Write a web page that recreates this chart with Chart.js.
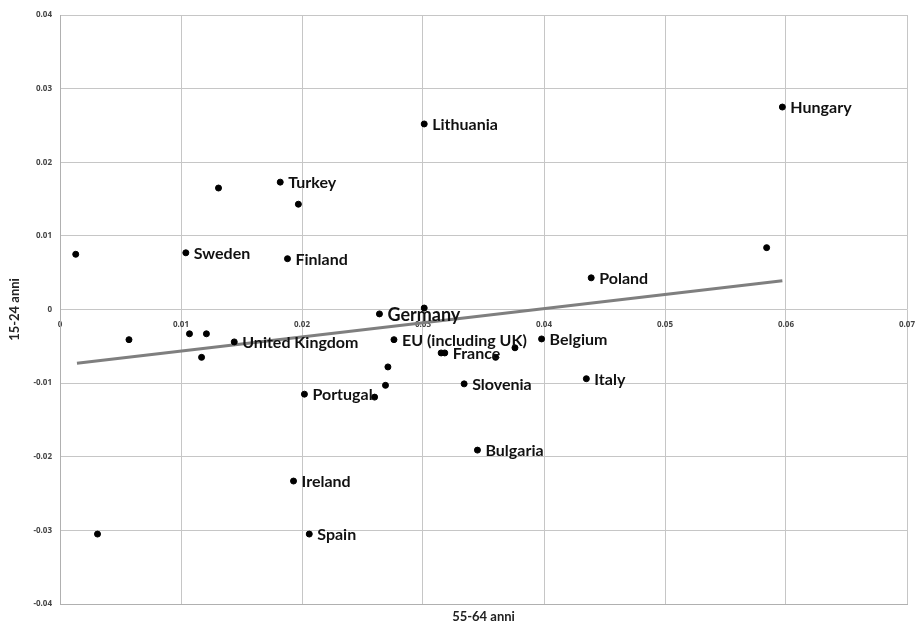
<!DOCTYPE html>
<html>
<head>
<meta charset="utf-8">
<script src="https://cdn.jsdelivr.net/npm/chart.js@4.4.1/dist/chart.umd.min.js"></script>
<style>
  html, body { margin: 0; padding: 0; background: #fff; }
  #wrap { width: 919px; height: 625px; position: relative; }
</style>
</head>
<body>
<div id="wrap"><canvas id="c" width="919" height="625"></canvas></div>
<script>
// Country labels ("" = unlabelled point)
const countries = [
  "", "", "", "", "", "", "", "", "", "", "", "", "", "", "",
  "Sweden", "United Kingdom", "Turkey", "Finland", "Portugal", "Ireland", "Spain",
  "Germany", "EU (including UK)", "France", "Slovenia", "Bulgaria", "Lithuania",
  "Hungary", "Poland", "Belgium", "Italy", ""
];
// 55-64 anni
const xValues = [
  0.0013, 0.0057, 0.0031, 0.0131, 0.0107, 0.0121, 0.0117, 0.0197, 0.0260, 0.0269,
  0.0271, 0.0301, 0.0360, 0.0376, 0.0584,
  0.0104, 0.0144, 0.0182, 0.0188, 0.0202, 0.0193, 0.0206,
  0.0264, 0.0276, 0.0318, 0.0334, 0.0345, 0.0301,
  0.0597, 0.0439, 0.0398, 0.0435, 0.0315
];
// 15-24 anni
const yValues = [
  0.0075, -0.0041, -0.0305, 0.0165, -0.0033, -0.0033, -0.0065, 0.0143, -0.0119, -0.0103,
  -0.0078, 0.0002, -0.0065, -0.0052, 0.0084,
  0.0077, -0.0044, 0.0173, 0.0069, -0.0115, -0.0233, -0.0305,
  -0.0006, -0.0041, -0.0059, -0.0101, -0.0191, 0.0252,
  0.0275, 0.0043, -0.0040, -0.0094, -0.0059
];
// Linear trend line endpoints
const trendX = [0.0014, 0.0597];
const trendY = [-0.0073, 0.0039];
// Axis ticks
const xTicks = [0, 0.01, 0.02, 0.03, 0.04, 0.05, 0.06, 0.07];
const yTicks = [0.04, 0.03, 0.02, 0.01, 0, -0.01, -0.02, -0.03, -0.04];

const fmt = v => String(Math.round(v * 100) / 100);

const points = xValues.map((x, i) => ({ x, y: yValues[i], name: countries[i] }));
const trend = trendX.map((x, i) => ({ x, y: trendY[i] }));

// Writes the country name to the right of each labelled marker
const pointLabels = {
  id: 'pointLabels',
  afterDatasetsDraw(chart) {
    const ctx = chart.ctx;
    const meta = chart.getDatasetMeta(1);
    ctx.save();
    ctx.fillStyle = '#111';
    ctx.textBaseline = 'middle';
    ctx.textAlign = 'left';
    meta.data.forEach((el, i) => {
      const name = points[i].name;
      if (!name) return;
      const size = name === 'Germany' ? 18 : 16;
      ctx.font = 'bold ' + size + 'px Lato, "Open Sans", sans-serif';
      ctx.fillText(name, el.x + 8, el.y + 1);
    });
    ctx.restore();
  }
};

const noSidePadding = s => { s.paddingLeft = 0; s.paddingRight = 0; };

new Chart(document.getElementById('c'), {
  type: 'scatter',
  data: {
    datasets: [
      {
        type: 'line',
        data: trend,
        borderColor: '#7f7f7f',
        borderWidth: 3,
        pointRadius: 0,
        fill: false,
        order: 2
      },
      {
        data: points,
        backgroundColor: '#000',
        borderColor: '#000',
        pointRadius: 3,
        pointHoverRadius: 3,
        order: 1
      }
    ]
  },
  options: {
    responsive: false,
    animation: false,
    events: [],
    layout: { padding: { left: 0, right: 12, top: 15, bottom: 0 } },
    plugins: { legend: { display: false }, tooltip: { enabled: false } },
    scales: {
      x: {
        type: 'linear',
        position: 'bottom',
        min: 0, max: 0.07,
        afterBuildTicks: s => { s.ticks = xTicks.map(v => ({ value: v })); },
        grid: { color: '#c6c6c6', lineWidth: 1, drawTicks: false },
        border: { color: '#b0b0b0', width: 1 },
        ticks: { display: false },
        title: {
          display: true, text: '55-64 anni', color: '#222',
          font: { family: 'Lato, "Open Sans", sans-serif', size: 13, weight: 'bold' },
          padding: { top: 3, bottom: 0 }
        },
        afterFit: s => { s.height = 21; noSidePadding(s); }
      },
      xZero: {
        type: 'linear',
        position: { y: 0 },
        min: 0, max: 0.07,
        afterBuildTicks: s => { s.ticks = xTicks.map(v => ({ value: v })); },
        grid: { display: false, drawTicks: false },
        border: { display: false },
        ticks: {
          color: '#444', padding: 10, maxRotation: 0, autoSkip: false,
          font: { family: '"Open Sans", sans-serif', size: 8, weight: 'bold' },
          callback: v => fmt(v)
        },
        afterFit: noSidePadding
      },
      y: {
        type: 'linear',
        min: -0.04, max: 0.04,
        afterBuildTicks: s => { s.ticks = yTicks.map(v => ({ value: v })); },
        grid: { color: '#c6c6c6', lineWidth: 1, drawTicks: false },
        border: { color: '#b0b0b0', width: 1 },
        ticks: {
          color: '#444', padding: 8, autoSkip: false,
          font: { family: '"Open Sans", sans-serif', size: 8, weight: 'bold' },
          callback: v => fmt(v)
        },
        title: {
          display: true, text: '15-24 anni', color: '#222',
          font: { family: 'Lato, "Open Sans", sans-serif', size: 13, weight: 'bold' },
          padding: { top: 7, bottom: 8 }
        },
        afterFit: s => { s.width = 60; s.paddingTop = 0; s.paddingBottom = 0; }
      }
    }
  },
  plugins: [pointLabels]
});
</script>
</body>
</html>
